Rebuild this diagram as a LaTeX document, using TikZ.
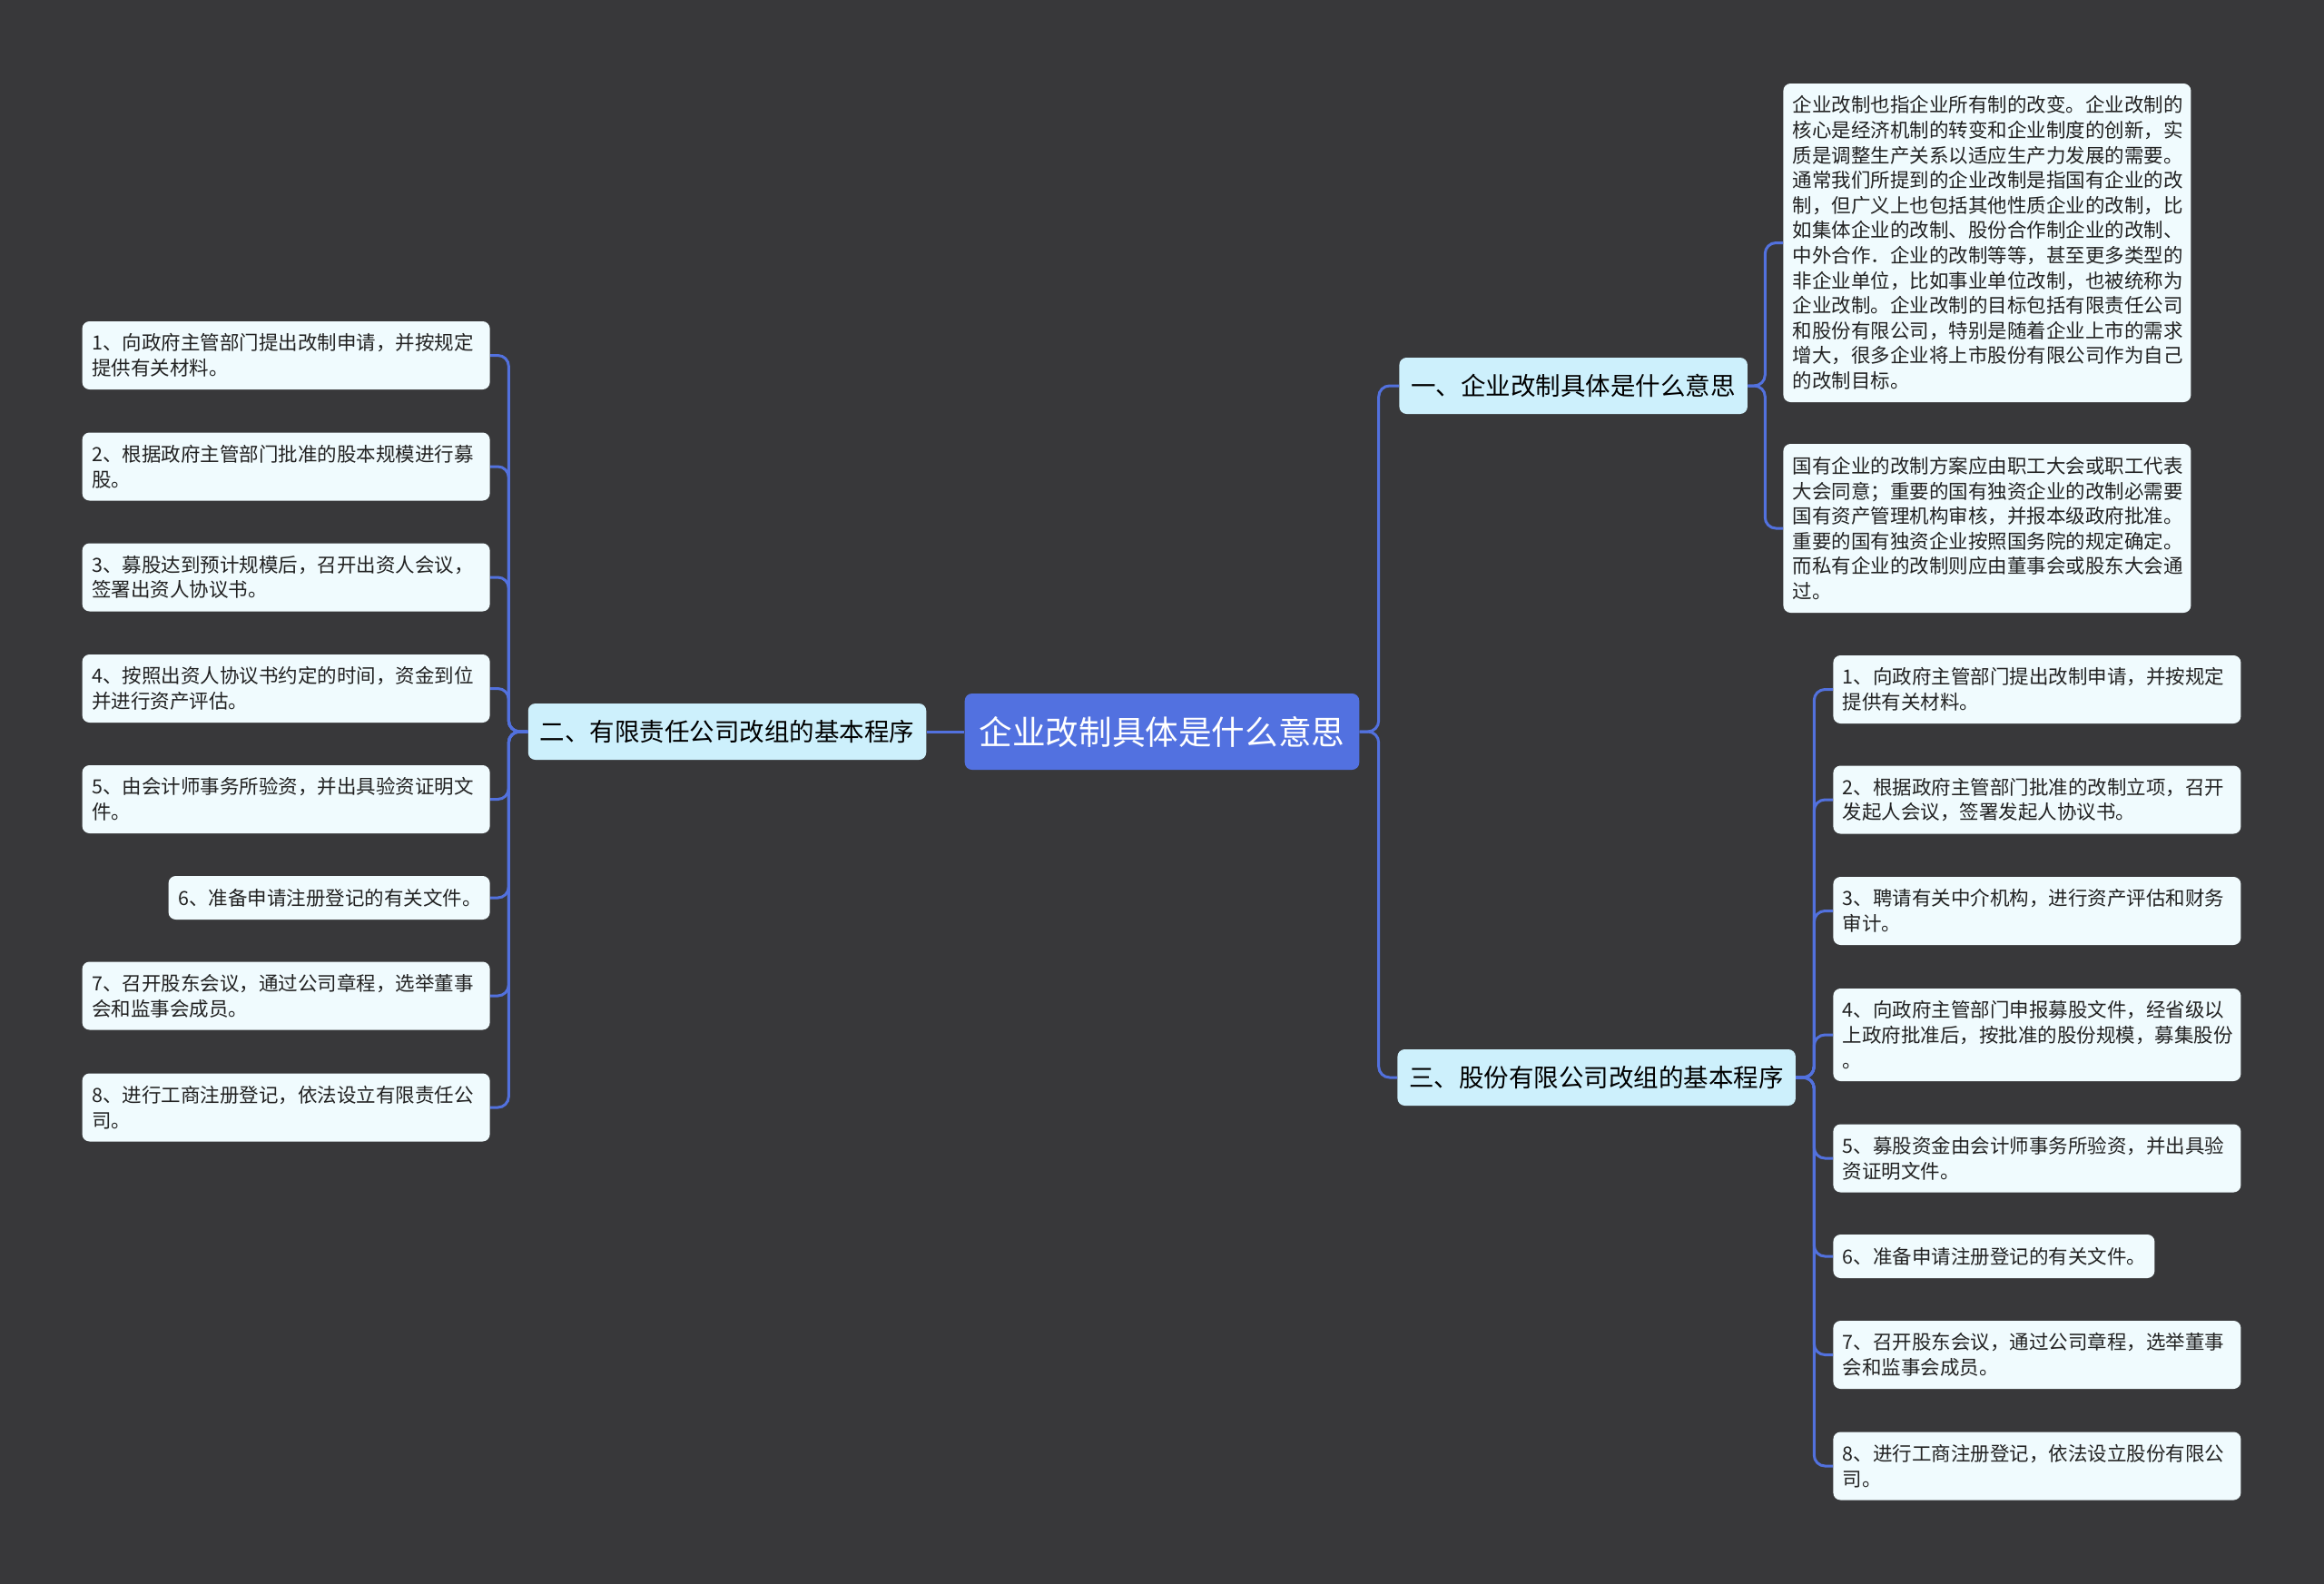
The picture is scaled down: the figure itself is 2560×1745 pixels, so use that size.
\documentclass[tikz,border=0pt]{standalone}
\usepackage{fontspec}
\setmainfont{Noto Sans CJK SC}
\definecolor{bgdark}{RGB}{56,56,58}
\definecolor{rootblue}{RGB}{82,113,224}
\definecolor{linkblue}{RGB}{82,113,222}
\definecolor{branchfill}{RGB}{205,240,252}
\definecolor{leaffill}{RGB}{240,251,254}
\definecolor{leaftext}{RGB}{34,34,34}

\begin{document}
\begin{tikzpicture}[x=0.5pt,y=-0.5pt,%
        root/.style={fill=rootblue, rounded corners=4pt, text=white,%
                        minimum height=42pt, inner xsep=8pt,%
                        font=\fontsize{18.3pt}{22pt}\selectfont},
        branch/.style={fill=branchfill, rounded corners=4pt, text=black,%
                        minimum height=31pt, inner xsep=6.5pt,%
                        font=\fontsize{13.75pt}{16pt}\selectfont},
        leaf/.style={fill=leaffill, rounded corners=4pt, text=leaftext,%
                        align=left, text width=214pt, minimum height=37.5pt,%
                        inner xsep=5.25pt, inner ysep=4pt,%
                        font=\fontsize{10.75pt}{13.8pt}\selectfont},
        link/.style={draw=linkblue, line width=1.5pt, rounded corners=6pt}]
    \fill[bgdark] (0,0) rectangle (2560,1745);

    % centre and main branches
    \node[root] (root) at (1280,806) {企业改制具体是什么意思};
    \node[branch, anchor=west] (brA) at (1541,425) {一、企业改制具体是什么意思};
    \node[branch] (brB) at (801,806) {二、有限责任公司改组的基本程序};
    \node[branch, anchor=west] (brC) at (1539,1187) {三、股份有限公司改组的基本程序};

    % branch one
    \node[leaf, anchor=west, minimum height=175.5pt] (a1) at (1964,267.5)
        {企业改制也指企业所有制的改变。企业改制的\\核心是经济机制的转变和企业制度的创新，实\\质是调整生产关系以适应生产力发展的需要。\\通常我们所提到的企业改制是指国有企业的改\\制，但广义上也包括其他性质企业的改制，比\\如集体企业的改制、股份合作制企业的改制、\\中外合作．企业的改制等等，甚至更多类型的\\非企业单位，比如事业单位改制，也被统称为\\企业改制。企业改制的目标包括有限责任公司\\和股份有限公司，特别是随着企业上市的需求\\增大，很多企业将上市股份有限公司作为自己\\的改制目标。};
    \node[leaf, anchor=west, minimum height=93pt] (a2) at (1964,582)
        {国有企业的改制方案应由职工大会或职工代表\\大会同意；重要的国有独资企业的改制必需要\\国有资产管理机构审核，并报本级政府批准。\\重要的国有独资企业按照国务院的规定确定。\\而私有企业的改制则应由董事会或股东大会通\\过。};

    % branch two
    \node[leaf, anchor=east] (b1) at (540,391.5) {1、向政府主管部门提出改制申请，并按规定\\提供有关材料。};
    \node[leaf, anchor=east] (b2) at (540,514) {2、根据政府主管部门批准的股本规模进行募\\股。};
    \node[leaf, anchor=east] (b3) at (540,636) {3、募股达到预计规模后，召开出资人会议，\\签署出资人协议书。};
    \node[leaf, anchor=east] (b4) at (540,758.5) {4、按照出资人协议书约定的时间，资金到位\\并进行资产评估。};
    \node[leaf, anchor=east] (b5) at (540,880.5) {5、由会计师事务所验资，并出具验资证明文\\件。};
    \node[leaf, anchor=east, text width=166.5pt, minimum height=24pt] (b6) at (540,989) {6、准备申请注册登记的有关文件。};
    \node[leaf, anchor=east] (b7) at (540,1097) {7、召开股东会议，通过公司章程，选举董事\\会和监事会成员。};
    \node[leaf, anchor=east] (b8) at (540,1220) {8、进行工商注册登记，依法设立有限责任公\\司。};

    % branch three
    \node[leaf, anchor=west] (c1) at (2019,759.5) {1、向政府主管部门提出改制申请，并按规定\\提供有关材料。};
    \node[leaf, anchor=west] (c2) at (2019,881) {2、根据政府主管部门批准的改制立项，召开\\发起人会议，签署发起人协议书。};
    \node[leaf, anchor=west] (c3) at (2019,1003.5) {3、聘请有关中介机构，进行资产评估和财务\\审计。};
    \node[leaf, anchor=west, minimum height=51pt] (c4) at (2019,1140) {4、向政府主管部门申报募股文件，经省级以\\上政府批准后，按批准的股份规模，募集股份\\。};
    \node[leaf, anchor=west] (c5) at (2019,1276) {5、募股资金由会计师事务所验资，并出具验\\资证明文件。};
    \node[leaf, anchor=west, text width=166.5pt, minimum height=24pt] (c6) at (2019,1384) {6、准备申请注册登记的有关文件。};
    \node[leaf, anchor=west] (c7) at (2019,1492.5) {7、召开股东会议，通过公司章程，选举董事\\会和监事会成员。};
    \node[leaf, anchor=west] (c8) at (2019,1615) {8、进行工商注册登记，依法设立股份有限公\\司。};

    % connectors
    \draw[link] (root.west) -- (brB.east);
    \foreach \n in {brA,brC}
        \draw[link] (root.east) -- ++(21,0) |- (\n.west);
    \foreach \i in {1,2}
        \draw[link] (brA.east) -- ++(19,0) |- (a\i.west);
    \foreach \i in {1,...,8}
        \draw[link] (brB.west) -- ++(-21,0) |- (b\i.east);
    \foreach \i in {1,...,8}
        \draw[link] (brC.east) -- ++(20,0) |- (c\i.west);
\end{tikzpicture}
\end{document}
